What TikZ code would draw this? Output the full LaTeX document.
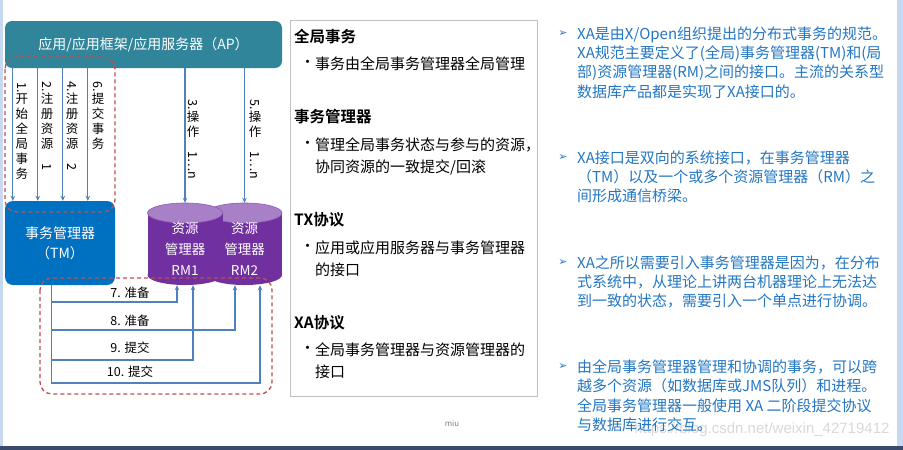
\documentclass[tikz,border=0pt]{standalone}
\usepackage{fontspec}
\setmainfont{Noto Sans CJK SC}[BoldFont={Noto Sans CJK SC Bold}]
\newfontfamily\symfont{DejaVu Sans}
\newfontfamily\wmfont{Liberation Sans}
\usepackage{tikz}
\usetikzlibrary{positioning, arrows.meta, shapes.geometric, calc}
\usepackage{xcolor}
\definecolor{apteal}{RGB}{49,133,155}
\definecolor{tmblue}{RGB}{0,112,192}
\definecolor{rmbody}{RGB}{112,48,160}
\definecolor{rmtop}{RGB}{168,128,200}
\definecolor{flowblue}{RGB}{79,129,189}
\definecolor{dashred}{RGB}{192,80,77}
\definecolor{noteblue}{RGB}{35,118,195}
\definecolor{stripblue}{RGB}{198,217,241}
\definecolor{barslate}{RGB}{58,74,107}
\newcommand{\fs}[2]{\fontsize{#1}{#2}\selectfont}

\begin{document}
\begin{tikzpicture}[x=1pt, y=-1pt,
  flow/.style={-{Stealth[length=5pt,width=4.5pt]}, flowblue, line width=1.2pt},
  vlab/.style={anchor=north, align=center, inner sep=0pt, font=\fs{12.5}{15}},
  steplab/.style={inner sep=0pt, font=\fs{12.5}{14}},
  dashbox/.style={draw=dashred, line width=1.3pt, dash pattern=on 4pt off 3pt, rounded corners=12pt},
  rmbox/.style={inner sep=0pt, minimum width=75pt, minimum height=82pt},
  rmtext/.style={inner sep=0pt, text=white, align=center, font=\fs{13.5}{21}},
  note/.style={anchor=west, inner sep=0pt, font=\fs{15}{22}},
  head/.style={anchor=west, inner sep=0pt, font=\bfseries\fs{15.5}{22}},
  xa/.style={anchor=north west, align=left, inner sep=0pt, text=noteblue, font=\fs{15}{19.3}},
  xabul/.style={inner sep=0pt, text=noteblue, font=\symfont\fs{11}{12}}]
\useasboundingbox (0,0) rectangle (903,450);
\fill[white] (0,0) rectangle (903,450);
\fill[stripblue] (0,0) rectangle (3,446);
\fill[stripblue] (897,0) rectangle (903,446);
\fill[barslate] (0,446) rectangle (903,450);

% AP and TM
\node[fill=apteal, rounded corners=7pt, minimum width=277pt, minimum height=47pt, text=white, font=\fs{14}{16}] (AP) at (143.5,44.5) {应用/应用框架/应用服务器（AP）};
\node[fill=tmblue, rounded corners=8pt, minimum width=110pt, minimum height=84pt, text=white, align=center, font=\fs{14}{20}] (TM) at (60,243) {事务管理器\\（TM）};

% Resource managers (RM2 behind RM1)
\foreach \n/\x in {2/244.5, 1/185} {
  \fill[rmbody] (\x,275) ellipse [x radius=37.5, y radius=10];
  \fill[rmbody] (\x-37.5,213) rectangle (\x+37.5,275);
  \filldraw[fill=rmtop, draw=rmbody!80!white, line width=0.6pt] (\x,213) ellipse [x radius=37.5, y radius=10];
  \node[rmbox] (RM\n) at (\x,244) {};
  \node[rmtext] (RM\n t) at ([yshift=-5pt]RM\n.center) {资源\\管理器\\RM\n};
}

% AP -> TM
\foreach \dx in {8,33,58,83}
  \draw[flow] ([xshift=\dx pt]AP.south west) -- ([xshift=\dx pt]TM.north west);
\node[vlab] (s1) at (22,82) {\rotatebox{-90}{1.}\\开\\始\\全\\局\\事\\务};
\node[vlab] (s2) at (47,81) {\rotatebox{-90}{2.}\\注\\册\\资\\源\\\rotatebox{-90}{1}};
\node[vlab] (s4) at (72,81) {\rotatebox{-90}{4.}\\注\\册\\资\\源\\\rotatebox{-90}{2}};
\node[vlab] (s6) at (98,81) {\rotatebox{-90}{6.}\\提\\交\\事\\务};

% AP -> RM
\draw[flow] (AP.south -| RM1.north) -- (RM1.north);
\draw[flow] (AP.south -| RM2.north) -- (RM2.north);
\node[vlab] (s3) at (193,99) {\rotatebox{-90}{3.}\\操\\作\\\rotatebox{-90}{1…n}};
\node[vlab] (s5) at (255,99) {\rotatebox{-90}{5.}\\操\\作\\\rotatebox{-90}{1…n}};

% TM -> RM
\coordinate (tmout) at ([xshift=47pt]TM.south west);
\coordinate (c7) at (177,302);
\coordinate (c8) at (235,330);
\coordinate (c9) at (193,360);
\coordinate (c10) at (260,383);
\draw[flow] (tmout) |- (c7) -- (c7 |- RM1.south);
\draw[flow] (tmout) |- (c8) -- (c8 |- RM2.south);
\draw[flow] (tmout) |- (c9) -- (c9 |- RM1.south);
\draw[flow] (tmout) |- (c10) -- (c10 |- RM2.south);
\node[steplab] (s7) at (130,293) {7. 准备};
\node[steplab] (s8) at (130,321) {8. 准备};
\node[steplab] (s9) at (130,348) {9. 提交};
\node[steplab] (s10) at (130,372) {10. 提交};

% Dashed groups
\draw[dashbox] (5,57) rectangle (115,212);
\draw[dashbox] (40,278) rectangle (272,394);

% Terms box
\node[draw=gray!50, fill=white, line width=0.8pt, minimum width=247pt, minimum height=376pt] (notes) at (413.5,208) {};
\node[head] (h1) at (294,37) {全局事务};
\node[note] (d1) at (300,64) {•};
\node[note] (t1) at (315,64) {事务由全局事务管理器全局管理};
\node[head] (h2) at (294,117) {事务管理器};
\node[note] (d2) at (300,145) {•};
\node[note] (t2) at (315,145) {管理全局事务状态与参与的资源，};
\node[note] (t2b) at (315,167) {协同资源的一致提交/回滚};
\node[head] (h3) at (294,220) {TX协议};
\node[note] (d3) at (300,248) {•};
\node[note] (t3) at (315,248) {应用或应用服务器与事务管理器};
\node[note] (t3b) at (315,270) {的接口};
\node[head] (h4) at (294,323) {XA协议};
\node[note] (d4) at (300,350) {•};
\node[note] (t4) at (315,350) {全局事务管理器与资源管理器的};
\node[note] (t4b) at (315,372) {接口};

\node[text=gray, font=\fs{8}{9}] (miu) at (452,423) {miu};
\node[anchor=east, text=gray!30, font=\wmfont\fs{15}{16}] (wm) at (893,430) {https://blog.csdn.net/weixin\_42719412};

% XA notes
\node[xabul] (a1) at (563,34) {➢};
\node[xa] (p1) at (577,26.5) {XA是由X/Open组织提出的分布式事务的规范。\\XA规范主要定义了(全局)事务管理器(TM)和(局\\部)资源管理器(RM)之间的接口。主流的关系型\\数据库产品都是实现了XA接口的。};
\node[xabul] (a2) at (563,158) {➢};
\node[xa] (p2) at (577,150.5) {XA接口是双向的系统接口，在事务管理器\\（TM）以及一个或多个资源管理器（RM）之\\间形成通信桥梁。};
\node[xabul] (a3) at (563,263) {➢};
\node[xa] (p3) at (577,255.5) {XA之所以需要引入事务管理器是因为，在分布\\式系统中，从理论上讲两台机器理论上无法达\\到一致的状态，需要引入一个单点进行协调。};
\node[xabul] (a4) at (563,367) {➢};
\node[xa] (p4) at (577,359.5) {由全局事务管理器管理和协调的事务，可以跨\\越多个资源（如数据库或JMS队列）和进程。\\全局事务管理器一般使用 XA 二阶段提交协议\\与数据库进行交互。};
\end{tikzpicture}
\end{document}
